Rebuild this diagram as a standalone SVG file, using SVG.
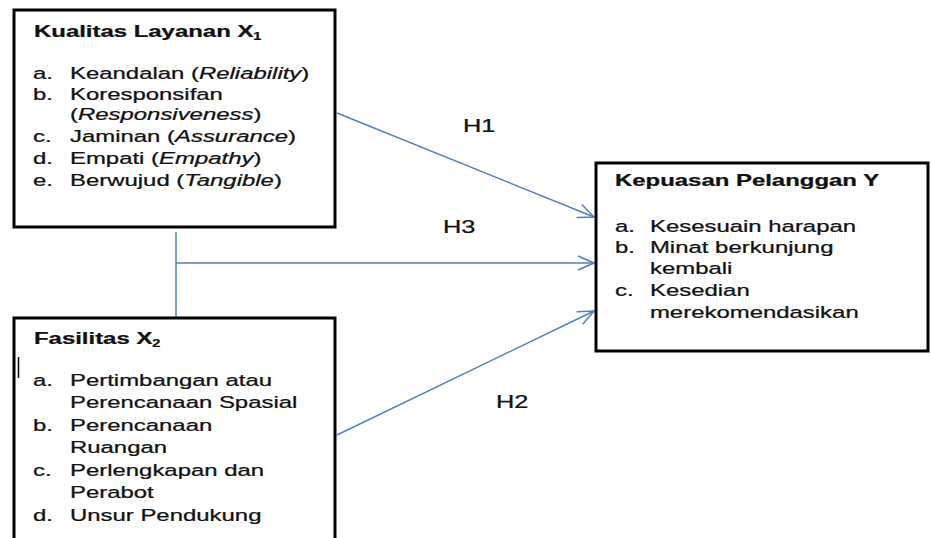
<svg xmlns="http://www.w3.org/2000/svg" width="931" height="538" viewBox="0 0 931 538">
<style>
.t{font-family:"Liberation Sans",Arial,sans-serif;font-size:16.5px;fill:#111;stroke:#111;stroke-width:0.25}
.b{font-weight:bold}
.lbl{font-family:"Liberation Sans",Arial,sans-serif;font-size:17.5px;fill:#111;stroke:#111;stroke-width:0.25}
.box{fill:#fff;stroke:#000;stroke-width:3}
.c{stroke:#4f81bd;stroke-width:1.5;fill:none}
.i{font-style:italic}
</style>
<defs>
<marker id="ah" markerUnits="userSpaceOnUse" markerWidth="18" markerHeight="16" viewBox="0 0 18 16" refX="17" refY="8" orient="auto">
<path d="M1,1 L17,8 L1,15" fill="none" stroke="#4f81bd" stroke-width="1.5"/>
</marker>
</defs>
<rect width="931" height="538" fill="#fff"/>
<g id="connectors">
<line class="c" x1="337" y1="113" x2="594" y2="217" marker-end="url(#ah)"/>
<line class="c" x1="337" y1="435" x2="594" y2="311" marker-end="url(#ah)"/>
<line class="c" x1="176" y1="232" x2="176" y2="318"/>
<line class="c" x1="176" y1="263" x2="594" y2="263" marker-end="url(#ah)"/>
<text class="lbl" transform="translate(463 132) scale(1.45 1)">H1</text>
<text class="lbl" transform="translate(443 233) scale(1.45 1)">H3</text>
<text class="lbl" transform="translate(496 408) scale(1.45 1)">H2</text>
</g>
<g id="x1">
<rect class="box" x="14" y="10" width="321" height="217"/>
<text class="t b" transform="translate(34 37) scale(1.45 1)">Kualitas Layanan X<tspan font-size="10" dy="3">1</tspan></text>
<text class="t" transform="translate(33 0) scale(1.45 1)">
<tspan x="0" y="79.5">a.</tspan><tspan x="25.5" y="79.5">Keandalan (<tspan class="i">Reliability</tspan>)</tspan>
<tspan x="0" y="100">b.</tspan><tspan x="25.5" y="100">Koresponsifan</tspan>
<tspan x="25.5" y="120.5">(<tspan class="i">Responsiveness</tspan>)</tspan>
<tspan x="0" y="142">c.</tspan><tspan x="25.5" y="142">Jaminan (<tspan class="i">Assurance</tspan>)</tspan>
<tspan x="0" y="164">d.</tspan><tspan x="25.5" y="164">Empati (<tspan class="i">Empathy</tspan>)</tspan>
<tspan x="0" y="186">e.</tspan><tspan x="25.5" y="186">Berwujud (<tspan class="i">Tangible</tspan>)</tspan>
</text>
</g>
<g id="x2">
<rect class="box" x="14" y="318" width="321" height="232"/>
<line x1="18.5" y1="357" x2="18.5" y2="378" stroke="#000" stroke-width="1.5"/>
<text class="t b" transform="translate(34 344) scale(1.45 1)">Fasilitas X<tspan font-size="10" dy="3">2</tspan></text>
<text class="t" transform="translate(33 0) scale(1.45 1)">
<tspan x="0" y="386">a.</tspan><tspan x="25.5" y="386">Pertimbangan atau</tspan>
<tspan x="25.5" y="408.5">Perencanaan Spasial</tspan>
<tspan x="0" y="431">b.</tspan><tspan x="25.5" y="431">Perencanaan</tspan>
<tspan x="25.5" y="453.5">Ruangan</tspan>
<tspan x="0" y="476">c.</tspan><tspan x="25.5" y="476">Perlengkapan dan</tspan>
<tspan x="25.5" y="498.5">Perabot</tspan>
<tspan x="0" y="521">d.</tspan><tspan x="25.5" y="521">Unsur Pendukung</tspan>
</text>
</g>
<g id="y">
<rect class="box" x="596" y="163" width="332" height="188"/>
<text class="t b" transform="translate(615 186) scale(1.45 1)">Kepuasan Pelanggan Y</text>
<text class="t" transform="translate(615 0) scale(1.45 1)">
<tspan x="0" y="232">a.</tspan><tspan x="24.1" y="232">Kesesuain harapan</tspan>
<tspan x="0" y="253">b.</tspan><tspan x="24.1" y="253">Minat berkunjung</tspan>
<tspan x="24.1" y="274">kembali</tspan>
<tspan x="0" y="296">c.</tspan><tspan x="24.1" y="296">Kesedian</tspan>
<tspan x="24.1" y="318">merekomendasikan</tspan>
</text>
</g>
</svg>
